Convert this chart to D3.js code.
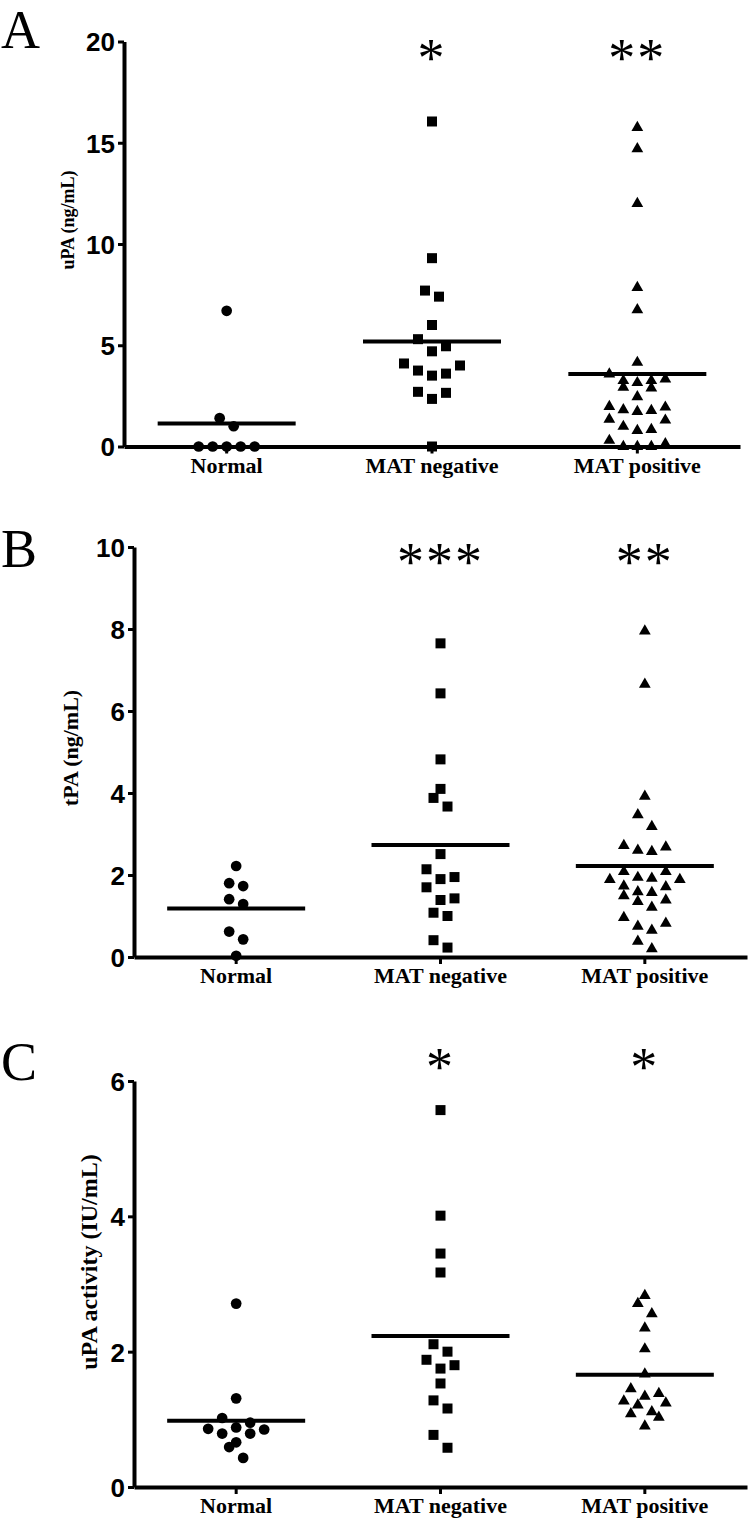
<!DOCTYPE html>
<html>
<head>
<meta charset="utf-8">
<script src="https://cdnjs.cloudflare.com/ajax/libs/d3/7.8.5/d3.min.js"></script>
<style>
  body { margin: 0; background: #fff; }
  svg { display: block; }
  .tick text { font-family: 'Liberation Sans', Arial, sans-serif; font-weight: bold; }
</style>
</head>
<body>
<div id="chart"></div>
<script>
// categories shared by all three panels
const categories = ['Normal', 'MAT negative', 'MAT positive'];

// A - uPA (ng/mL)
const uPANormal = [6.7, 1.4, 1.0, 0, 0, 0, 0, 0];
const uPAMatNeg = [16.05, 9.3, 7.7, 7.4, 6.0, 5.3, 4.95, 4.7, 4.1, 4.0, 3.75, 3.6, 3.5, 2.7, 2.65, 2.35, 0];
const uPAMatPos = [15.75, 14.7, 12.0, 7.85, 6.75, 4.15, 3.58, 3.33, 3.25, 3.25, 3.15, 2.92, 2.89, 2.45,
  1.97, 1.94, 1.81, 1.77, 1.72, 1.34, 1.3, 0.99, 0.84, 0.79, 0.3, 0.13, 0, 0, 0];
const uPAMeans = [1.13, 5.18, 3.58];
const uPATicks = [0, 5, 10, 15, 20];
const uPASig = ['', '*', '**'];

// B - tPA (ng/mL)
const tPANormal = [2.22, 1.8, 1.73, 1.41, 1.29, 0.62, 0.43, 0.03];
const tPAMatNeg = [7.65, 6.43, 4.82, 4.1, 3.88, 3.67, 2.51, 2.14, 1.95, 1.9, 1.7, 1.43, 1.39, 1.08, 1.0, 0.41, 0.23];
const tPAMatPos = [7.95, 6.65, 3.92, 3.47, 3.18, 2.72, 2.68, 2.6, 2.57, 2.08, 2.08, 1.94, 1.92, 1.89, 1.89,
  1.73, 1.71, 1.59, 1.57, 1.49, 1.39, 1.35, 1.21, 0.96, 0.82, 0.75, 0.65, 0.38, 0.2];
const tPAMeans = [1.18, 2.73, 2.22];
const tPATicks = [0, 2, 4, 6, 8, 10];
const tPASig = ['', '***', '**'];

// C - uPA activity (IU/mL)
const actNormal = [2.71, 1.31, 1.02, 0.95, 0.88, 0.86, 0.85, 0.79, 0.79, 0.66, 0.59, 0.43];
const actMatNeg = [5.57, 4.01, 3.45, 3.17, 2.11, 2.0, 1.88, 1.8, 1.75, 1.53, 1.28, 1.16, 0.77, 0.58];
const actMatPos = [2.83, 2.71, 2.56, 2.35, 2.04, 1.67, 1.45, 1.38, 1.34, 1.27, 1.24, 1.21, 1.11, 1.08, 1.03, 0.9];
const actMeans = [0.98, 2.23, 1.66];
const actTicks = [0, 2, 4, 6];
const actSig = ['', '*', '*'];

const panels = [
  { letter: 'A', title: 'uPA (ng/mL)', groups: [uPANormal, uPAMatNeg, uPAMatPos], means: uPAMeans, ticks: uPATicks, sig: uPASig,
    x0: 124, x1: 740, y0: 446.5, y1: 41.5, letterY: 48, titleX: 68, titleY: 220, titleSize: 18, sigY: 76, labelY: 473 },
  { letter: 'B', title: 'tPA (ng/mL)', groups: [tPANormal, tPAMatNeg, tPAMatPos], means: tPAMeans, ticks: tPATicks, sig: tPASig,
    x0: 134, x1: 747, y0: 957, y1: 547, letterY: 567, titleX: 70, titleY: 748, titleSize: 22, sigY: 580, labelY: 983 },
  { letter: 'C', title: 'uPA activity (IU/mL)', groups: [actNormal, actMatNeg, actMatPos], means: actMeans, ticks: actTicks, sig: actSig,
    x0: 134, x1: 747, y0: 1487, y1: 1081, letterY: 1080, titleX: 89, titleY: 1262, titleSize: 24, sigY: 1085, labelY: 1513 }
];

const symbols = [d3.symbolCircle, d3.symbolSquare, d3.symbolTriangle];
const symbolSize = [90, 100, 60];
const rowGap = 13.8;   // px: values closer than this share a row
const slotStep = 14;   // px between neighbours in a row
const meanHalf = 69;

const svg = d3.select('#chart').append('svg')
  .attr('width', 750)
  .attr('height', 1520);

// prism-like dot layout: rows of close values spread out in a V
function swarm(values, y) {
  const sorted = values.slice().sort((a, b) => a - b);
  const rows = [];
  let cur = null;
  sorted.forEach(v => {
    if (!cur || y(cur[0]) - y(v) >= rowGap) { cur = [v]; rows.push(cur); }
    else cur.push(v);
  });
  const out = [];
  rows.forEach(row => {
    const n = row.length;
    const slots = [];
    for (let k = (n - 1) / 2; k > 0; k -= 1) slots.push(-k, k);
    if (n % 2 === 1) slots.push(0);
    row.slice().sort((a, b) => b - a).forEach((v, j) => out.push({ v: v, slot: slots[j] }));
  });
  return out;
}

panels.forEach(p => {
  const g = svg.append('g');

  const x = d3.scaleBand().domain(categories).range([p.x0, p.x1]).padding(0);
  const y = d3.scaleLinear().domain([0, d3.max(p.ticks)]).range([p.y0, p.y1]);

  // y axis
  const yAxis = g.append('g')
    .attr('transform', `translate(${p.x0},0)`)
    .call(d3.axisLeft(y).tickValues(p.ticks).tickFormat(d3.format('d'))
      .tickSize(6).tickSizeOuter(0).tickPadding(3));
  yAxis.select('.domain').attr('stroke-width', 4).attr('stroke', '#000');
  yAxis.selectAll('.tick line').attr('stroke-width', 3);
  yAxis.selectAll('.tick text')
    .attr('dy', '0.36em')
    .attr('font-size', 26)
    .attr('fill', '#000');

  // x axis
  const xAxis = g.append('g')
    .attr('transform', `translate(0,${p.y0})`)
    .call(d3.axisBottom(x).tickSize(7).tickSizeOuter(0).tickFormat(''));
  xAxis.select('.domain').attr('stroke-width', 4).attr('stroke', '#000');
  xAxis.selectAll('.tick line').attr('stroke-width', 3);

  g.selectAll('.cat-label')
    .data(categories)
    .join('text')
    .attr('class', 'cat-label')
    .attr('x', d => x(d) + x.bandwidth() / 2)
    .attr('y', p.labelY)
    .attr('text-anchor', 'middle')
    .attr('font-family', "'Liberation Serif', 'Times New Roman', serif")
    .attr('font-weight', 'bold')
    .attr('font-size', 22)
    .text(d => d);

  // y title
  g.append('text')
    .attr('transform', `translate(${p.titleX},${p.titleY}) rotate(-90)`)
    .attr('text-anchor', 'middle')
    .attr('dy', '0.35em')
    .attr('font-family', "'Liberation Serif', 'Times New Roman', serif")
    .attr('font-weight', 'bold')
    .attr('font-size', p.titleSize)
    .text(p.title);

  // panel letter
  g.append('text')
    .attr('x', 1)
    .attr('y', p.letterY)
    .attr('font-family', "'Liberation Serif', 'Times New Roman', serif")
    .attr('font-size', 54)
    .text(p.letter);

  // significance stars
  g.selectAll('.sig')
    .data(p.sig)
    .join('text')
    .attr('class', 'sig')
    .attr('x', (d, i) => x(categories[i]) + x.bandwidth() / 2)
    .attr('y', p.sigY)
    .attr('text-anchor', 'middle')
    .attr('font-family', "'Liberation Serif', 'Times New Roman', serif")
    .attr('font-size', 54)
    .attr('letter-spacing', 2)
    .text(d => d);

  // dots
  p.groups.forEach((vals, gi) => {
    const cx = x(categories[gi]) + x.bandwidth() / 2;
    const sym = d3.symbol().type(symbols[gi]).size(symbolSize[gi]);
    g.append('g').selectAll('path')
      .data(swarm(vals, y))
      .join('path')
      .attr('d', sym)
      .attr('transform', d => `translate(${cx + d.slot * slotStep},${y(d.v)})`)
      .attr('fill', '#000');
  });

  // mean lines
  g.selectAll('.mean')
    .data(p.means)
    .join('line')
    .attr('class', 'mean')
    .attr('x1', (d, i) => x(categories[i]) + x.bandwidth() / 2 - meanHalf)
    .attr('x2', (d, i) => x(categories[i]) + x.bandwidth() / 2 + meanHalf)
    .attr('y1', d => y(d))
    .attr('y2', d => y(d))
    .attr('stroke', '#000')
    .attr('stroke-width', 4);
});
</script>
</body>
</html>
